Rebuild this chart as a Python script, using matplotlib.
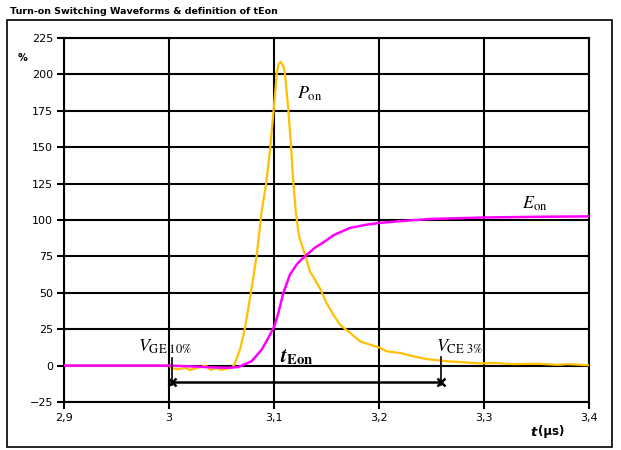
import matplotlib
matplotlib.use("Agg")
import matplotlib.pyplot as plt
from matplotlib.patches import Rectangle
from matplotlib.ticker import FuncFormatter

plt.rcParams['mathtext.fontset'] = 'stix'

# Pon waveform (%)
t_pon = [2.9, 3.0, 3.003, 3.01, 3.015, 3.02, 3.025, 3.03, 3.035, 3.04, 3.045,
         3.05, 3.055, 3.06, 3.0622, 3.0676, 3.0724, 3.0781, 3.0835, 3.0883,
         3.0927, 3.0965, 3.0997, 3.1026, 3.1041, 3.1064, 3.1089, 3.1105,
         3.1136, 3.1162, 3.1184, 3.1207, 3.1238, 3.128, 3.131, 3.1343, 3.1374,
         3.1406, 3.1438, 3.150, 3.1565, 3.1629, 3.1724, 3.1819, 3.1914, 3.201,
         3.2073, 3.22, 3.2327, 3.245, 3.2645, 3.28, 3.296, 3.31, 3.328, 3.35,
         3.37, 3.38, 3.4]
p_on = [0, 0, -2, -2.5, -1.5, -3, -2, -1, 0, -3, -1.5,
        -3, -2, -1.5, 0.7, 11, 25.9, 50.6, 75.5, 106,
        126, 150, 176, 200, 206.7, 208.6, 205.6, 200,
        176, 151, 126, 106, 88.8, 79.7, 72.8, 64.5, 61,
        57, 53, 43, 35, 28, 22.5, 16.7, 14.4, 12.2,
        9.8, 8.7, 6.4, 4.5, 3, 2.3, 1.5, 1.8, 1, 1.3,
        0.5, 1, 0.2]

# Eon waveform (%)
t_eon = [2.9, 3.0, 3.02, 3.04, 3.055, 3.066, 3.0787, 3.0883, 3.0946, 3.1003,
         3.1041, 3.1089, 3.1152, 3.1216, 3.1248, 3.131, 3.139, 3.1486, 3.1565,
         3.1724, 3.1883, 3.2003, 3.22, 3.2486, 3.299, 3.35, 3.4]
e_on = [0, 0, -0.5, -1.2, -1.5, -1, 3, 11, 19, 27,
        36, 50, 62.5, 69.4, 72, 76, 81, 85.4, 89.5,
        94.6, 96.8, 98, 99.2, 100.7, 101.7, 102.2, 102.5]

# tEon window markers
t_start, t_end = 3.0026, 3.2587
y_arrow = -11.5

x_ticks = [2.9, 3.0, 3.1, 3.2, 3.3, 3.4]
y_ticks = list(range(-25, 226, 25))

fig = plt.figure(figsize=(6.21, 4.5), dpi=100)
fig.patches.append(Rectangle((7 / 621, 3 / 450), 605 / 621, 427 / 450,
                             transform=fig.transFigure, fill=False,
                             edgecolor='black', lw=1.2))
fig.text(10 / 621, 1 - 12 / 450, "Turn-on Switching Waveforms & definition of tEon",
         fontsize=6.8, fontweight='bold', ha='left', va='center')

ax = fig.add_axes([64 / 621, 48 / 450, 525 / 621, 364 / 450])
ax.set_xlim(2.9, 3.4)
ax.set_ylim(-25, 225)
ax.set_xticks(x_ticks)
ax.set_yticks(y_ticks)
ax.xaxis.set_major_formatter(FuncFormatter(lambda v, p: f"{v:g}".replace('.', ',')))
ax.tick_params(direction='out', length=5, width=1.5, labelsize=8, pad=3)
ax.grid(True, color='black', lw=1.5)
for s in ax.spines.values():
    s.set_linewidth(1.5)
ax.set_axisbelow(True)

ax.plot(t_pon, p_on, color='#FFC000', lw=1.6, zorder=3)
ax.plot(t_eon, e_on, color='#FF00FF', lw=1.8, zorder=4)

# tEon window
ax.plot([t_start, t_end], [y_arrow, y_arrow], color='black', lw=1.8, zorder=5)
ax.plot([t_start, t_start], [5, y_arrow - 2], color='black', lw=1.2, zorder=5)
ax.plot([t_end, t_end], [6, y_arrow - 2], color='black', lw=1.2, zorder=5)
ax.plot([t_start, t_end], [y_arrow, y_arrow], ls='none', marker='x',
        ms=6, mew=1.8, color='black', zorder=6)

ax.text(2.9705, 13, r"$V_{\mathrm{GE\ 10\%}}$", fontsize=13, ha='left', va='center')
ax.text(3.254, 13, r"$V_{\mathrm{CE\ 3\%}}$", fontsize=13, ha='left', va='center')
ax.text(3.1057, 6, r"$\boldsymbol{t}_{\mathbf{Eon}}$", fontsize=15, ha='left', va='center')
ax.text(3.1216, 187, r"$P_{\mathrm{on}}$", fontsize=13, ha='left', va='center')
ax.text(3.336, 111, r"$E_{\mathrm{on}}$", fontsize=13, ha='left', va='center')

fig.text(23 / 621, 1 - 58 / 450, "%", fontsize=7, fontweight='bold',
         ha='center', va='center')
fig.text(530 / 621, 1 - 432 / 450, "t", fontsize=9.5, fontweight='bold',
         fontstyle='italic', ha='left', va='center')
fig.text(538 / 621, 1 - 432 / 450, "(µs)", fontsize=8.5,
         fontweight='bold', ha='left', va='center')

fig.savefig("out.png", dpi=100)
